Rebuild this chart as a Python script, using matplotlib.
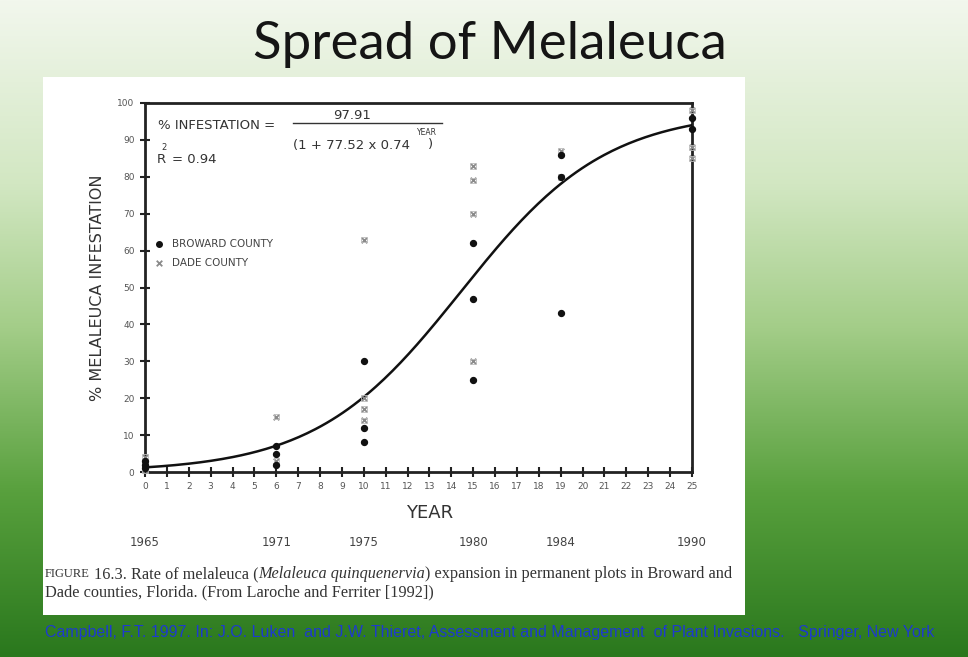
import numpy as np
import matplotlib.pyplot as plt
from matplotlib.colors import LinearSegmentedColormap
from matplotlib.patches import Rectangle
import matplotlib.transforms as mtransforms

# data (x = years since 1965)
broward_x = [0, 0, 0, 6, 6, 6, 10, 10, 10, 15, 15, 15, 19, 19, 19, 25, 25]
broward_y = [1, 2, 3, 7, 5, 2, 30, 12, 8, 62, 47, 25, 86, 80, 43, 96, 93]
dade_x = [0, 0, 0, 6, 6, 10, 10, 10, 10, 15, 15, 15, 15, 19, 19, 25, 25, 25]
dade_y = [0.5, 2, 4, 15, 3, 63, 20, 17, 14, 83, 79, 70, 30, 87, 80, 98, 88, 85]
# fitted logistic from the figure
fit_a, fit_b, fit_c = 97.91, 77.52, 0.74
year_pos = [0, 6, 10, 15, 19, 25]
year_lab = ['1965', '1971', '1975', '1980', '1984', '1990']

W, H = 968, 657
fig = plt.figure(figsize=(W / 100, H / 100), dpi=100)

# green slide background (top pale, bottom dark)
bg = fig.add_axes([0, 0, 1, 1], zorder=-10)
cmap = LinearSegmentedColormap.from_list(
    'slide', [(0, '#f2f7ed'), (0.28, '#d2e7c2'), (0.5, '#a3cd88'),
              (0.75, '#58a03d'), (1, '#2a781d')])
bg.imshow(np.linspace(0, 1, 256).reshape(-1, 1), aspect='auto', cmap=cmap,
          extent=[0, 1, 0, 1], origin='upper')
bg.set_xlim(0, 1)
bg.set_ylim(0, 1)
bg.axis('off')

# white scanned page
bg.add_patch(Rectangle((43 / W, 1 - 615 / H), (745 - 43) / W, (615 - 77) / H,
                       transform=fig.transFigure, facecolor='white',
                       edgecolor='none', zorder=1))

fig.text(490 / W, 1 - 44 / H, 'Spread of Melaleuca', ha='center', va='center',
         fontsize=38, family='Lato', color='#151515')

ax = fig.add_axes([145 / W, 1 - 472 / H, (692 - 145) / W, (472 - 103) / H])
ax.set_facecolor('none')

xs = np.linspace(0, 25, 200)
ax.plot(xs, fit_a / (1 + fit_b * fit_c ** xs), color='#111111', lw=1.8, zorder=3)
ax.scatter(dade_x, dade_y, marker='x', s=16, color='#8a8a8a', lw=1.3,
           zorder=4, clip_on=False)
ax.scatter(dade_x, dade_y, marker='s', s=16, facecolor='none',
           edgecolor='#bbbbbb', lw=0.6, zorder=4, clip_on=False)
ax.scatter(broward_x, broward_y, marker='o', s=18, color='#111111', zorder=5,
           clip_on=False)

ax.set_xlim(0, 25)
ax.set_ylim(0, 100)
ax.set_xticks(range(0, 26))
ax.set_yticks(range(0, 101, 10))
ax.tick_params(direction='inout', length=7, width=1.5, labelsize=6.5,
               labelcolor='#555555', color='#222222', pad=4)
for s in ax.spines.values():
    s.set_linewidth(2)
    s.set_color('#222222')

ax.set_ylabel('% MELALEUCA INFESTATION', fontsize=11.5, color='#333333',
              labelpad=9)
ax.text(0.52, -0.112, 'YEAR', transform=ax.transAxes, ha='center',
        va='center', fontsize=13, color='#333333')
tr = mtransforms.blended_transform_factory(ax.transData, ax.transAxes)
for p, lab in zip(year_pos, year_lab):
    ax.text(p, -0.19, lab, transform=tr, ha='center', va='center',
            fontsize=8.5, color='#444444')

# equation
ec = '#333333'
ax.text(0.024, 0.94, '% INFESTATION =', transform=ax.transAxes, fontsize=9.5,
        color=ec, va='center')
ax.plot([0.27, 0.543], [0.946, 0.946], transform=ax.transAxes, color=ec, lw=1)
ax.text(0.378, 0.967, '97.91', transform=ax.transAxes, fontsize=9.5, color=ec,
        ha='center', va='center')
ax.text(0.27, 0.886, '(1 + 77.52 x 0.74', transform=ax.transAxes,
        fontsize=9.5, color=ec, va='center')
ax.text(0.497, 0.921, 'YEAR', transform=ax.transAxes, fontsize=5.5, color=ec,
        va='center')
ax.text(0.517, 0.888, ')', transform=ax.transAxes, fontsize=9.5, color=ec,
        va='center')
ax.text(0.022, 0.846, 'R', transform=ax.transAxes, fontsize=9.5, color=ec,
        va='center')
ax.text(0.03, 0.88, '2', transform=ax.transAxes, fontsize=6, color=ec,
        va='center')
ax.text(0.05, 0.846, '= 0.94', transform=ax.transAxes, fontsize=9.5,
        color=ec, va='center')

# legend
ax.scatter([0.026], [0.618], transform=ax.transAxes, marker='o', s=16,
           color='#111111', clip_on=False)
ax.text(0.049, 0.618, 'BROWARD COUNTY', transform=ax.transAxes, fontsize=7.5,
        color='#444444', va='center')
ax.scatter([0.026], [0.566], transform=ax.transAxes, marker='x', s=16,
           color='#8a8a8a', lw=1.3, clip_on=False)
ax.text(0.049, 0.566, 'DADE COUNTY', transform=ax.transAxes, fontsize=7.5,
        color='#444444', va='center')

# caption, pieced together
fig.canvas.draw()
renderer = fig.canvas.get_renderer()


def run(pieces, x, y):
    for txt, style, size, gap in pieces:
        t = fig.text(x, y, txt, fontsize=size, style=style,
                     family='Liberation Serif', color='#333333', va='center')
        bb = t.get_window_extent(renderer)
        x += (bb.width + gap) / W


run([('FIGURE', 'normal', 9, 4),
     ('16.3. Rate of melaleuca (', 'normal', 11.7, 0),
     ('Melaleuca quinquenervia', 'italic', 11.7, 0),
     (') expansion in permanent plots in Broward and', 'normal', 11.7, 0)],
    45 / W, 1 - 574 / H)
run([('Dade counties, Florida. (From Laroche and Ferriter [1992])', 'normal',
      11.7, 0)], 45 / W, 1 - 592 / H)

fig.text(490 / W, 1 - 633 / H,
         'Campbell, F.T. 1997. In: J.O. Luken  and J.W. Thieret, Assessment '
         'and Management  of Plant Invasions.   Springer, New York',
         ha='center', va='center', fontsize=11.5, color='#1d3acf',
         family='Liberation Sans')

fig.savefig('out.png', dpi=100)
